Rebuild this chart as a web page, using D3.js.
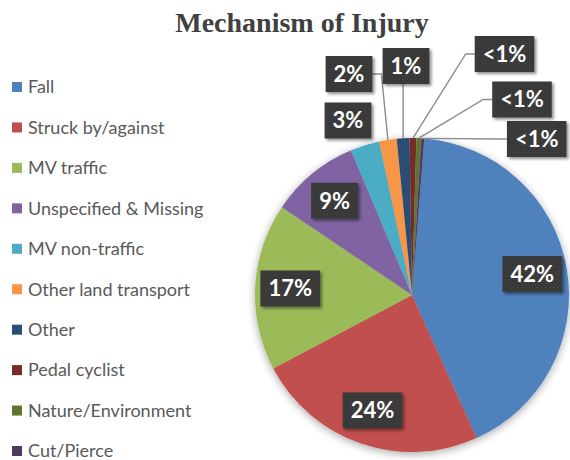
<!DOCTYPE html>
<html>
<head>
<meta charset="utf-8">
<script src="https://cdn.jsdelivr.net/npm/d3@7/dist/d3.min.js"></script>
<style>
  html, body { margin: 0; padding: 0; background: #ffffff; }
  svg { display: block; }
</style>
</head>
<body>
<svg id="chart" width="570" height="460"></svg>
<script>
// Mechanism of injury, share of cases (%)
const categories = [
  "Fall", "Struck by/against", "MV traffic", "Unspecified & Missing",
  "MV non-traffic", "Other land transport", "Other", "Pedal cyclist",
  "Nature/Environment", "Cut/Pierce"
];
const shares = [42.0, 24.0, 17.2, 9.2, 3.0, 1.8, 1.3, 0.7, 0.5, 0.3];
const sliceColors = [
  "#4F81BD", "#C0504D", "#9BBB59", "#8064A2", "#4BACC6",
  "#F79646", "#2C4D75", "#772C2A", "#5F7530", "#4D3B62"
];
const chartTitle = "Mechanism of Injury";

const svg = d3.select("#chart");
const cx = 412, cy = 295, R = 157;

const defs = svg.append("defs");

// soft glow under the pie
const pieShadow = defs.append("filter").attr("id", "pieShadow")
  .attr("x", "-20%").attr("y", "-20%").attr("width", "140%").attr("height", "140%");
pieShadow.append("feDropShadow").attr("dx", 0).attr("dy", 2)
  .attr("stdDeviation", 4).attr("flood-color", "#000").attr("flood-opacity", 0.35);

// label box shadow
const boxShadow = defs.append("filter").attr("id", "boxShadow")
  .attr("x", "-20%").attr("y", "-20%").attr("width", "150%").attr("height", "150%");
boxShadow.append("feDropShadow").attr("dx", 2).attr("dy", 2)
  .attr("stdDeviation", 1.5).attr("flood-color", "#000").attr("flood-opacity", 0.45);

// dotted dark fill for the value boxes
const dots = defs.append("pattern").attr("id", "dots")
  .attr("width", 4).attr("height", 4).attr("patternUnits", "userSpaceOnUse");
dots.append("rect").attr("width", 4).attr("height", 4).attr("fill", "#383838");
dots.append("rect").attr("x", 1).attr("y", 1).attr("width", 1).attr("height", 1).attr("fill", "#4c4c4c");
dots.append("rect").attr("x", 3).attr("y", 3).attr("width", 1).attr("height", 1).attr("fill", "#444444");

// title
svg.append("text")
  .attr("x", 302).attr("y", 32)
  .attr("text-anchor", "middle")
  .attr("font-family", "'Liberation Serif', 'Times New Roman', serif")
  .attr("font-weight", "bold")
  .attr("font-size", 28)
  .attr("fill", "#404040")
  .text(chartTitle);

// legend
const legend = svg.append("g").attr("class", "legend");
const legendY = d3.scalePoint().domain(categories).range([87, 451]);
const legendRows = legend.selectAll("g").data(categories).join("g")
  .attr("transform", d => `translate(12,${legendY(d)})`);
legendRows.append("rect")
  .attr("x", 0).attr("y", -5).attr("width", 10).attr("height", 10)
  .attr("fill", (d, i) => sliceColors[i]);
legendRows.append("text")
  .attr("x", 16).attr("y", 0).attr("dy", "0.35em")
  .attr("font-family", "Lato, 'Open Sans', sans-serif")
  .attr("font-size", 18)
  .attr("fill", "#595959")
  .text(d => d);

// pie
const startOffset = 4.5 * Math.PI / 180;
const pie = d3.pie().sort(null).value(d => d)
  .startAngle(startOffset).endAngle(startOffset + 2 * Math.PI);
const arcs = pie(shares);
const arc = d3.arc().innerRadius(0).outerRadius(R);
const labelArc = d3.arc().innerRadius(122).outerRadius(122);

const pieG = svg.append("g").attr("transform", `translate(${cx},${cy})`);
pieG.append("g").attr("filter", "url(#pieShadow)")
  .selectAll("path").data(arcs).join("path")
  .attr("d", arc)
  .attr("fill", (d, i) => sliceColors[i]);

const fmt = v => v < 1 ? "<1%" : Math.round(v) + "%";

// callout box centres for the thin slices, relative to the pie centre
const callouts = {
  "MV non-traffic": { x: -64, y: -174.5, leader: false },
  "Other land transport": { x: -63, y: -221, leader: true },
  "Other": { x: -6, y: -229, leader: true },
  "Pedal cyclist": { x: 92.5, y: -241, leader: true },
  "Nature/Environment": { x: 110, y: -195.5, leader: true },
  "Cut/Pierce": { x: 124.7, y: -156, leader: true }
};

const boxH = 36, padX = 8;
const leaderG = pieG.append("g");
const labelG = pieG.append("g");

arcs.forEach((a, i) => {
  const name = categories[i];
  const txt = fmt(shares[i]);
  const co = callouts[name];
  const pos = co ? [co.x, co.y] : labelArc.centroid(a);

  const g = labelG.append("g").attr("transform", `translate(${pos[0]},${pos[1]})`);
  const t = g.append("text")
    .attr("text-anchor", "middle")
    .attr("dy", "0.36em")
    .attr("font-family", "Lato, 'Open Sans', sans-serif")
    .attr("font-weight", "bold")
    .attr("font-size", 22)
    .attr("fill", "#ffffff")
    .text(txt);
  const tw = t.node().getComputedTextLength();
  const bw = tw + padX * 2;
  g.insert("rect", "text")
    .attr("x", -bw / 2).attr("y", -boxH / 2)
    .attr("width", bw).attr("height", boxH)
    .attr("fill", "url(#dots)")
    .attr("filter", "url(#boxShadow)");

  if (co && co.leader) {
    const mid = (a.startAngle + a.endAngle) / 2;
    const ax = Math.sin(mid) * R, ay = -Math.cos(mid) * R;
    let pts;
    if (Math.abs(ax - pos[0]) < bw / 2 - 2 && ay > pos[1]) {
      pts = [[ax, ay], [ax, pos[1] + boxH / 2]];
    } else if (ax < pos[0]) {
      const ex = pos[0] - bw / 2;
      pts = [[ax, ay], [ex - 9, pos[1]], [ex, pos[1]]];
    } else {
      const ex = pos[0] + bw / 2;
      pts = [[ax, ay], [ex + 9, pos[1]], [ex, pos[1]]];
    }
    leaderG.append("path")
      .attr("d", d3.line()(pts))
      .attr("fill", "none")
      .attr("stroke", "#8c8c8c")
      .attr("stroke-width", 1.4);
  }
});
</script>
</body>
</html>
